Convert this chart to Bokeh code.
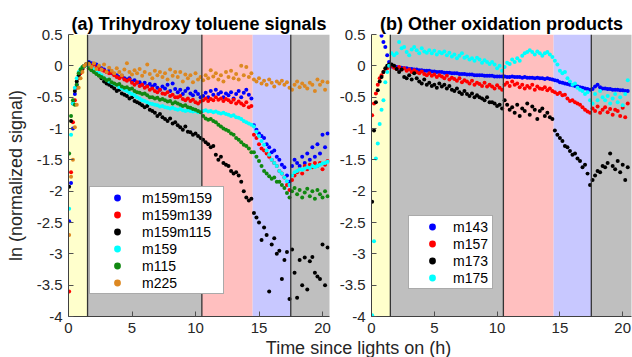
import numpy as np
from bokeh.plotting import figure
from bokeh.models import Range1d, FixedTicker, CustomJSTickFormatter, Span, Label
from bokeh.layouts import row, column
from bokeh.embed import file_html
from bokeh.resources import INLINE

NAN = float("nan")
FONT = "Liberation Sans"

# ---------------- data ----------------
T_EARLY = [0.05, 0.2, 0.35, 0.5, 0.65, 0.8, 0.95, 1.1, 1.25, 1.4]
T_MAIN = np.round(np.arange(1.6, 20.41, 0.2), 2).tolist()   # sampling grid
TIME = T_EARLY + T_MAIN

BAND_EDGES = [0, 1.5, 10.5, 14.5, 17.5, 21.0]
BAND_COLORS = ["#FFFFCC", "#BFBFBF", "#FFBFBF", "#C8C8FF", "#BFBFBF"]
VLINES = [1.5, 10.5, 17.5]
Y_TICKS = [-4, -3.5, -3, -2.5, -2, -1.5, -1, -0.5, 0, 0.5]
X_TICKS = [0, 5, 10, 15, 20]

# Panel (a): trihydroxy toluene signals
A_NAMES = ["m159m159", "m159m139", "m159m115", "m159", "m115", "m225"]
A_COLORS = ["#0000FF", "#FF0000", "#000000", "#00FFFF", "#118811", "#DD8822"]

m159m159 = [-2.48, -1.87, -1.0, -0.45, -0.3, -0.2, -0.1, -0.05, 0.0, 0.03,
    0.06, 0.04, 0.03, 0.02, -0.02,
    -0.04, -0.06, -0.1, -0.08, -0.12,
    -0.13, -0.15, -0.18, -0.16, -0.2,
    -0.22, -0.2, -0.25, -0.23, -0.27,
    -0.26, -0.3, -0.27, -0.32, -0.29,
    -0.33, -0.3, -0.35, -0.38, -0.33,
    -0.36, -0.3, -0.4, -0.28, -0.37,
    -0.42, -0.38, -0.45, -0.4, -0.36,
    -0.44, -0.47, -0.41, -0.45, -0.5,
    -0.48, -0.43, -0.5, -0.4, -0.46,
    -0.38, -0.45, -0.42, -0.5, -0.44,
    -0.47, -0.42, -0.52, -0.45, -0.4,
    -0.5, -0.43, -0.38, -0.46, -0.52,
    -0.95, -1.02, -1.08, -1.12, -1.15,
    -1.25, -1.3, -1.38, -1.35, -1.45,
    -1.5, -1.58, -1.62, -1.75, -1.85,
    -1.6, -1.5, -1.55, -1.6, -1.45,
    -1.55, -1.4, -1.5, -1.3, -1.45,
    -1.25, -1.4, -1.1, -1.3, -1.08]

m159m139 = [-3.6, -1.7, -0.9, -0.55, -0.35, -0.2, -0.12, -0.05, 0.0, 0.02,
    0.03, 0.0, 0.02, -0.03, -0.05,
    -0.06, -0.08, -0.1, -0.12, -0.11,
    -0.15, -0.18, -0.2, -0.17, -0.22,
    -0.24, -0.22, -0.27, -0.3, -0.26,
    -0.32, -0.3, -0.35, -0.33, -0.38,
    -0.36, -0.4, -0.42, -0.38, -0.44,
    -0.45, -0.42, -0.48, -0.46, -0.5,
    -0.5, -0.48, -0.53, -0.55, -0.52,
    -0.56, -0.54, -0.58, -0.6, -0.57,
    -0.55, -0.52, -0.56, -0.53, -0.55,
    -0.5, -0.54, -0.52, -0.56, -0.53,
    -0.55, -0.58, -0.54, -0.6, -0.57,
    -0.6, -0.63, -0.58, -0.66, -0.64,
    -1.1, -1.15, -1.25, -1.32, -1.35,
    -1.4, -1.45, -1.5, -1.55, -1.6,
    -1.68, -1.72, -1.78, -1.9, -1.98,
    -1.82, -1.75, -1.7, -1.65, -1.72,
    -1.6, -1.65, -1.58, -1.62, -1.55,
    -1.6, -1.55, -1.65, -1.58, -1.52]

m159m115 = [-1.93, -0.88, -0.6, -0.4, -0.25, -0.15, -0.08, -0.03, 0.0, 0.02,
    0.04, -0.02, -0.08, -0.12, -0.15,
    -0.2, -0.25, -0.28, -0.3, -0.33,
    -0.36, -0.4, -0.38, -0.44, -0.46,
    -0.48, -0.52, -0.5, -0.56, -0.58,
    -0.6, -0.63, -0.66, -0.64, -0.7,
    -0.72, -0.75, -0.8, -0.77, -0.82,
    -0.85, -0.88, -0.84, -0.92, -0.9,
    -0.95, -0.98, -1.02, -0.97, -1.05,
    -1.06, -1.1, -1.08, -1.12, -1.15,
    -1.18, -1.22, -1.25, -1.3, -1.28,
    -1.42, -1.5, -1.45, -1.55, -1.58,
    -1.6, -1.68, -1.72, -1.7, -1.75,
    -1.85, -2.0, -2.1, -2.15, -2.12,
    -2.35, -2.42, -2.5, -2.78, -2.58,
    -2.7, -3.6, -2.85, -2.75, -3.0,
    -2.95, -3.4, -3.1, -2.97, -3.72,
    -2.93, -3.3, -3.7, -3.1, -3.5,
    -3.06, -3.57, -3.12, -3.05, -3.3,
    -3.36, -3.4, -2.85, -3.5, -2.9]

m159 = [-2.28, -1.1, -0.6, -0.35, -0.2, -0.1, -0.05, -0.02, 0.0, 0.01,
    0.02, -0.02, -0.06, -0.1, -0.12,
    -0.15, -0.2, -0.22, -0.25, -0.27,
    -0.29, -0.31, -0.34, -0.36, -0.38,
    -0.4, -0.43, -0.45, -0.47, -0.5,
    -0.52, -0.55, -0.56, -0.58, -0.6,
    -0.61, -0.62, -0.63, -0.65, -0.64,
    -0.66, -0.67, -0.68, -0.67, -0.69,
    -0.7, -0.69, -0.71, -0.72, -0.71,
    -0.72, -0.73, -0.72, -0.74, -0.73,
    -0.72, -0.71, -0.73, -0.72, -0.74,
    -0.73, -0.75, -0.76, -0.75, -0.77,
    -0.78, -0.8, -0.79, -0.82, -0.83,
    -0.85, -0.88, -0.9, -0.92, -0.94,
    -0.97, -1.05, -1.12, -1.2, -1.26,
    -1.35, -1.42, -1.5, -1.55, -1.6,
    -1.68, -1.72, -1.78, -1.84, -1.9,
    -1.75, -1.7, -1.68, -1.65, -1.66,
    -1.64, -1.62, -1.63, -1.6, -1.62,
    -1.6, -1.58, -1.56, -1.55, -1.53]

m115 = [-1.4, -0.8, -0.55, -0.62, -0.3, -0.12, -0.06, -0.02, 0.0, 0.02,
    -0.04, -0.07, -0.1, -0.13, -0.16,
    -0.18, -0.2, -0.23, -0.22, -0.26,
    -0.28, -0.3, -0.29, -0.33, -0.35,
    -0.34, -0.37, -0.36, -0.4, -0.42,
    -0.43, -0.45, -0.44, -0.47, -0.5,
    -0.5, -0.52, -0.51, -0.54, -0.53,
    -0.55, -0.57, -0.56, -0.6, -0.58,
    -0.6, -0.62, -0.64, -0.63, -0.66,
    -0.67, -0.69, -0.7, -0.72, -0.74,
    -0.8, -0.84, -0.86, -0.85, -0.88,
    -0.9, -0.94, -0.97, -1.0, -1.02,
    -1.04, -1.08, -1.1, -1.15, -1.18,
    -1.22, -1.26, -1.28, -1.32, -1.38,
    -1.38, -1.45, -1.52, -1.6, -1.68,
    -1.72, -1.76, -1.8, -1.78, -1.85,
    -1.85, -1.9, -1.95, -2.03, -2.1,
    -2.0, -1.95, -2.05, -1.98, -2.1,
    -2.02, -1.96, -2.08, -2.0, -2.12,
    -1.98, -2.05, -2.1, -2.0, -2.08]

m225 = [-2.7, -1.77, -1.5, -0.98, -0.62, -0.35, -0.2, -0.1, 0.0, 0.03,
    0.03, -0.02, 0.04, -0.05, 0.0,
    -0.06, 0.02, -0.1, -0.03, -0.08,
    -0.12, -0.04, -0.1, -0.15, -0.06,
    0.04, -0.1, -0.14, -0.07, -0.12,
    -0.05, -0.16, -0.1, 0.02, -0.13,
    -0.2, -0.08, -0.15, -0.1, -0.18,
    -0.12, -0.22, -0.06, -0.16, -0.1,
    -0.18, -0.1, -0.25, -0.14, -0.2,
    -0.15, -0.26, -0.12, -0.22, -0.18,
    -0.23, -0.15, -0.2, -0.07, -0.17,
    -0.12, -0.22, -0.15, -0.25, -0.1,
    -0.18, -0.08, -0.2, -0.13, -0.22,
    0.0, -0.15, -0.02, -0.18, -0.12,
    -0.22, -0.25, -0.2, -0.28, -0.24,
    -0.3, -0.22, -0.27, -0.33, -0.25,
    -0.28, -0.24, -0.3, -0.26, -0.35,
    -0.38, -0.3, -0.25, -0.34, -0.28,
    -0.32, -0.36, -0.27, -0.3, -0.4,
    -0.22, -0.3, -0.25, -0.38, -0.26]

# Panel (b): other oxidation products
B_NAMES = ["m143", "m157", "m173", "m175"]
B_COLORS = ["#0000FF", "#FF0000", "#000000", "#00FFFF"]

m143 = [NAN, NAN, NAN, NAN, NAN, 0.48, 0.38, 0.3, 0.17, 0.06,
    -0.01, -0.02, -0.02, -0.03, -0.03,
    -0.04, -0.04, -0.05, -0.05, -0.06,
    -0.06, -0.07, -0.07, -0.08, -0.08,
    -0.08, -0.09, -0.09, -0.1, -0.1,
    -0.1, -0.11, -0.11, -0.11, -0.12,
    -0.12, -0.12, -0.13, -0.13, -0.13,
    -0.14, -0.14, -0.14, -0.15, -0.15,
    -0.15, -0.15, -0.16, -0.16, -0.16,
    -0.16, -0.17, -0.17, -0.17, -0.17,
    -0.17, -0.18, -0.18, -0.17, -0.18,
    -0.18, -0.18, -0.19, -0.18, -0.19,
    -0.19, -0.19, -0.2, -0.19, -0.2,
    -0.2, -0.21, -0.2, -0.21, -0.22,
    -0.23, -0.24, -0.26, -0.27, -0.28,
    -0.29, -0.3, -0.31, -0.32, -0.33,
    -0.34, -0.35, -0.36, -0.37, -0.38,
    -0.37, -0.33, -0.3, -0.34, -0.36,
    -0.36, -0.37, -0.37, -0.38, -0.38,
    -0.38, -0.39, -0.39, -0.4, -0.4]

m157 = [-0.79, -0.6, -0.44, -0.3, -0.2, -0.15, -0.1, -0.07, -0.04, 0.0,
    0.0, -0.03, -0.05, -0.02, -0.06,
    -0.04, -0.08, -0.06, -0.1, -0.07,
    -0.1, -0.12, -0.09, -0.13, -0.15,
    -0.12, -0.16, -0.14, -0.18, -0.15,
    -0.17, -0.2, -0.16, -0.22, -0.19,
    -0.21, -0.24, -0.2, -0.26, -0.23,
    -0.25, -0.28, -0.24, -0.3, -0.27,
    -0.29, -0.32, -0.27, -0.33, -0.3,
    -0.33, -0.36, -0.31, -0.35, -0.38,
    -0.3, -0.27, -0.32, -0.25, -0.3,
    -0.28, -0.34, -0.3, -0.36, -0.32,
    -0.35, -0.3, -0.38, -0.33, -0.36,
    -0.37, -0.34, -0.39, -0.36, -0.4,
    -0.42, -0.45, -0.43, -0.47, -0.46,
    -0.52, -0.56, -0.55, -0.58, -0.6,
    -0.62, -0.66, -0.7, -0.73, -0.75,
    -0.68, -0.72, -0.65, -0.75, -0.7,
    -0.66, -0.74, -0.69, -0.78, -0.7,
    -0.72, -0.8, -0.67, -0.82, -0.6]

m173 = [-2.17, -1.03, -0.58, -0.39, -0.25, -0.18, -0.1, -0.04, 0.0, 0.02,
    0.02, 0.0, -0.05, -0.1, -0.06,
    -0.18, -0.2, -0.15, -0.22, -0.12,
    -0.2, -0.25, -0.28, -0.22, -0.3,
    -0.27, -0.32, -0.3, -0.35, -0.28,
    -0.33, -0.3, -0.36, -0.32, -0.38,
    -0.4, -0.36, -0.42, -0.45, -0.4,
    -0.45, -0.48, -0.44, -0.5, -0.47,
    -0.5, -0.52, -0.55, -0.5, -0.58,
    -0.58, -0.6, -0.64, -0.62, -0.68,
    -0.55, -0.62, -0.7, -0.66, -0.75,
    -0.62, -0.8, -0.68, -0.72, -0.6,
    -0.78, -0.65, -0.7, -0.85, -0.72,
    -0.68, -0.8, -0.75, -0.82, -0.85,
    -1.03, -1.1, -1.15, -1.2, -1.28,
    -1.3, -1.36, -1.42, -1.4, -1.48,
    -1.52, -1.62, -1.58, -1.72, -1.9,
    -1.82, -1.75, -1.68, -1.7, -1.6,
    -1.62, -1.55, -1.4, -1.6, -1.65,
    -1.52, -1.7, -1.58, -1.82, -1.62]

m175 = [-3.98, -2.8, -1.48, -1.24, -0.93, -0.7, -0.55, -0.26, -0.1, 0.0,
    0.2, 0.17, 0.2, 0.38, 0.28,
    0.3, 0.22, 0.17, 0.26, 0.3,
    0.25, 0.2, 0.28, 0.23, 0.21,
    0.25, 0.2, 0.24, 0.18, 0.22,
    0.2, 0.23, 0.17, 0.21, 0.15,
    0.18, 0.12, 0.16, 0.2, 0.13,
    0.15, 0.1, 0.12, 0.08, 0.13,
    0.1, 0.05, 0.09, 0.06, 0.03,
    0.06, 0.02, -0.04, 0.0, -0.08,
    -0.02, 0.05, 0.03, 0.1, 0.06,
    0.12, 0.08, 0.16, 0.2, 0.22,
    0.25, 0.22, 0.18, 0.23, 0.2,
    0.16, 0.2, 0.22, 0.18, 0.14,
    0.08, 0.02, -0.08, -0.12, -0.1,
    -0.2, -0.25, -0.3, -0.28, -0.35,
    -0.38, -0.4, -0.45, -0.42, -0.55,
    -0.6, -0.45, -0.55, -0.4, -0.5,
    -0.55, -0.48, -0.6, -0.52, -0.45,
    -0.58, -0.5, -0.63, -0.45, -0.23]

A_VALUES = [m159m159, m159m139, m159m115, m159, m115, m225]
B_VALUES = [m143, m157, m173, m175]

Y_MIN, Y_MAX = -4.0, 0.5
ROW_H = 338
STRIP_H = 19


def make_panel(title, names, colors, values, xmax, width, border_left,
               border_right, legend_loc, glyph_w, label_w, ylabel):
    p = figure(width=width, height=ROW_H, x_range=Range1d(0, xmax),
               y_range=Range1d(Y_MIN, Y_MAX), output_backend="svg",
               toolbar_location=None, min_border_left=border_left,
               min_border_right=border_right, min_border_top=34,
               min_border_bottom=ROW_H - 316)
    p.background_fill_color = "white"
    p.border_fill_color = "white"
    p.outline_line_color = None
    p.grid.visible = False

    # shaded periods
    p.quad(left=BAND_EDGES[:-1], right=BAND_EDGES[1:], bottom=Y_MIN, top=Y_MAX,
           fill_color=BAND_COLORS, line_color=None)
    for xv in VLINES:
        p.add_layout(Span(location=xv, dimension="height",
                          line_color="#333333", line_width=1.3))

    for name, col, vals in zip(names, colors, values):
        p.scatter(TIME, np.array(vals, dtype=float), marker="circle", size=4,
                  fill_color=col, line_color=None, legend_label=name)

    p.title.text = title
    p.title.align = "center"
    p.title.text_font = FONT
    p.title.text_font_size = "18px"
    p.title.text_font_style = "bold"
    p.title.text_color = "#000000"
    p.title.standoff = 1

    for ax in (p.xaxis[0], p.yaxis[0]):
        ax.axis_line_color = "#404040"
        ax.axis_line_width = 1
        ax.major_tick_in = 5
        ax.major_tick_out = 0
        ax.major_tick_line_color = "#505050"
        ax.minor_tick_line_color = None
        ax.major_label_text_font = FONT
        ax.major_label_text_font_size = "15px"
        ax.major_label_text_color = "#262626"
        ax.formatter = CustomJSTickFormatter(code="return tick.toString();")
    p.xaxis.ticker = FixedTicker(ticks=X_TICKS)
    p.yaxis.ticker = FixedTicker(ticks=Y_TICKS)
    p.xaxis.major_label_standoff = 6
    p.yaxis.major_label_standoff = 6
    if ylabel:
        p.yaxis.axis_label = ylabel
        p.yaxis.axis_label_text_font = FONT
        p.yaxis.axis_label_text_font_size = "18px"
        p.yaxis.axis_label_text_font_style = "normal"
        p.yaxis.axis_label_text_color = "#262626"
        p.yaxis.axis_label_standoff = 8

    lg = p.legend[0]
    lg.location = legend_loc
    lg.padding = 2
    lg.spacing = 0
    lg.margin = 0
    lg.glyph_height = 17
    lg.label_height = 17
    lg.glyph_width = glyph_w
    lg.label_width = label_w
    lg.label_standoff = 0
    lg.label_text_font = FONT
    lg.label_text_font_size = "14px"
    lg.label_text_color = "#000000"
    lg.border_line_color = "#555555"
    lg.border_line_width = 1
    lg.background_fill_alpha = 1.0
    return p


pa = make_panel("(a) Trihydroxy toluene signals", A_NAMES, A_COLORS, A_VALUES,
                20.55, 332, 68, 3, (21, 22), 50, 79, "ln (normalized signal)")
pb = make_panel("(b) Other oxidation products", B_NAMES, B_COLORS, B_VALUES,
                20.7, 300, 39, 1, (37, 27), 42, 37, None)

# shared x-axis label strip
pl = figure(width=632, height=STRIP_H, x_range=Range1d(0, 632),
            y_range=Range1d(0, STRIP_H), title=None,
            x_axis_type=None, y_axis_type=None, output_backend="svg",
            toolbar_location=None, min_border=0)
pl.outline_line_color = None
pl.grid.visible = False
pl.background_fill_color = "white"
pl.border_fill_color = "white"
pl.add_layout(Label(x=358, y=STRIP_H / 2, text="Time since lights on (h)",
                    text_align="center", text_baseline="middle", text_font=FONT,
                    text_font_size="18px", text_color="#262626"))

layout = column(row(pa, pb, spacing=0), pl, spacing=0)
open("out.html", "w").write(file_html(layout, INLINE))
